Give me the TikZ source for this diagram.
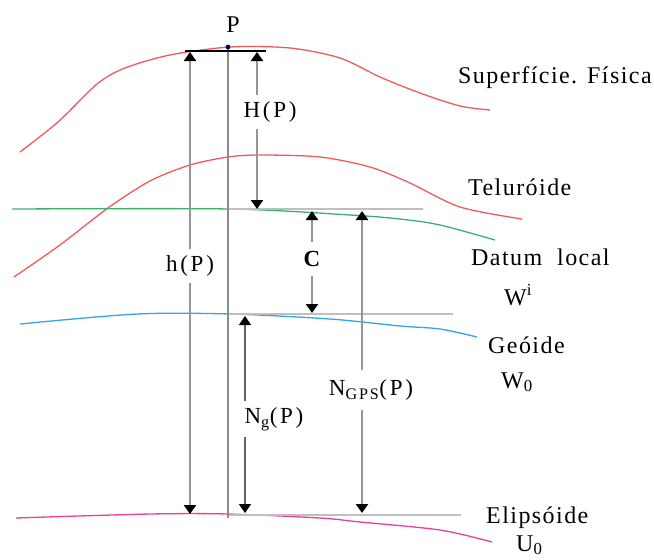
\documentclass[tikz,border=0pt]{standalone}
\usepackage{fontspec}
\setmainfont{Liberation Serif}
\newfontfamily\lblfont[LetterSpace=6]{Liberation Serif}
\newfontfamily\dimfont[LetterSpace=12]{Liberation Serif}
\usetikzlibrary{arrows.meta,calc}
\definecolor{surfred}{RGB}{240,90,90}
\definecolor{datgreen}{RGB}{60,175,110}
\definecolor{geoblue}{RGB}{50,165,230}
\definecolor{elimag}{RGB}{232,64,150}
\definecolor{dimgray}{RGB}{150,150,150}
\tikzset{
  curve/.style={line width=1.3pt, smooth, tension=0.5},
  dimline/.style={draw=dimgray, line width=2.6pt},
  dimtip/.style={-{Triangle[length=9pt,width=12pt,color=black]}},
  reflbl/.style={font=\lblfont\fontsize{24}{28}\selectfont, inner sep=1pt},
  dimlbl/.style={font=\dimfont\fontsize{23}{28}\selectfont, inner sep=1pt},
  guide/.style={draw=black!25, line width=1.2pt}
}
\begin{document}
\begin{tikzpicture}[x=1pt,y=-1pt]
\useasboundingbox (0,0) rectangle (654,560);
% surfaces
\draw[curve, surfred] plot coordinates {(20,152) (58,122) (97,84) (125,68) (170,55) (230,47) (290,48) (340,58) (380,77) (420,93) (460,106) (490,110)};
\draw[curve, surfred] plot coordinates {(14,277) (60,245) (108,208) (150,181) (190,165) (228,157) (260,155) (320,157) (370,167) (410,183) (460,207) (522,219)};
\draw[curve, datgreen] plot coordinates {(12,209) (230,209) (350,215) (400,219) (440,225) (495,240)};
\draw[curve, geoblue] plot coordinates {(20,324) (137,314) (230,314) (330,319) (400,326) (440,329) (477,337)};
\draw[curve, elimag] plot coordinates {(16,518) (150,514) (228,514) (320,518) (360,522) (440,530) (492,542)};
% guide lines
\coordinate (g1a) at (228,209); \coordinate (g1b) at (423,209);
\coordinate (g2a) at (228,314); \coordinate (g2b) at (453,314);
\coordinate (g3a) at (228,515); \coordinate (g3b) at (461,515);
\draw[guide] (g1a) -- (g1b);
\draw[guide] (g2a) -- (g2b);
\draw[guide] (g3a) -- (g3b);
% point P
\coordinate (Pt) at (228,47);
\coordinate (Pbot) at (228,518);
\draw[draw=black!45, line width=1.4pt] (Pt) -- (Pbot);
\coordinate (tl) at (185,51); \coordinate (tr) at (266,51);
\draw[black, line width=1.5pt] (tl) -- (tr);
\fill[blue!40!black] (Pt) circle (2.4pt);
\node[reflbl] (Plbl) at (233,25) {P};
% h(P)
\coordinate (hTop) at (190,52); \coordinate (hBot) at (190,514);
\node[dimlbl, inner sep=6pt] (hLbl) at (190,266) {h(P)};
\draw[dimline, dimtip] (hLbl) -- (hTop);
\draw[dimline, dimtip] (hLbl) -- (hBot);
% H(P)
\coordinate (HTop) at (257,52); \coordinate (HBot) at (257,209);
\node[dimlbl, inner sep=6pt] (HLbl) at (270,112) {H(P)};
\draw[dimline, dimtip] (HTop |- HLbl.north) -- (HTop);
\draw[dimline, dimtip] (HTop |- HLbl.south) -- (HBot);
% C
\coordinate (CTop) at (312,211); \coordinate (CBot) at (312,313);
\node[dimlbl, font=\dimfont\fontsize{23}{28}\selectfont\bfseries, inner sep=9pt] (CLbl) at (312,259) {C};
\draw[dimline, dimtip] (CLbl) -- (CTop);
\draw[dimline, dimtip] (CLbl) -- (CBot);
% N_g(P)
\coordinate (NgTop) at (245,316); \coordinate (NgBot) at (245,513);
\node[dimlbl, inner sep=6pt] (NgLbl) at (274,419) {N\textsubscript{g}(P)};
\draw[draw=black!60, line width=1.5pt, dimtip] (NgTop |- NgLbl.north) -- (NgTop);
\draw[draw=black!60, line width=1.5pt, dimtip] (NgTop |- NgLbl.south) -- (NgBot);
% N_GPS(P)
\coordinate (NgpsTop) at (362,211); \coordinate (NgpsBot) at (362,513);
\node[dimlbl, inner sep=9pt] (NgpsLbl) at (371,390) {N\textsubscript{GPS}(P)};
\draw[dimline, dimtip] (NgpsTop |- NgpsLbl.north) -- (NgpsTop);
\draw[dimline, dimtip] (NgpsTop |- NgpsLbl.south) -- (NgpsBot);
% right labels
\node[reflbl, anchor=base west] (lSup) at (457,83) {Superfície. Física};
\node[reflbl, anchor=base west] (lTel) at (467,195) {Teluróide};
\node[reflbl, anchor=base west] (lDat) at (470,265) {Datum\ \ local};
\node[reflbl, anchor=base west] (lWi) at (503,305) {W\textsuperscript{i}};
\node[reflbl, anchor=base west] (lGeo) at (487,353) {Geóide};
\node[reflbl, anchor=base west] (lW0) at (500,388) {W\textsubscript{0}};
\node[reflbl, anchor=base west] (lEli) at (485,523) {Elipsóide};
\node[reflbl, anchor=base west] (lU0) at (515,551) {U\textsubscript{0}};
\end{tikzpicture}
\end{document}
